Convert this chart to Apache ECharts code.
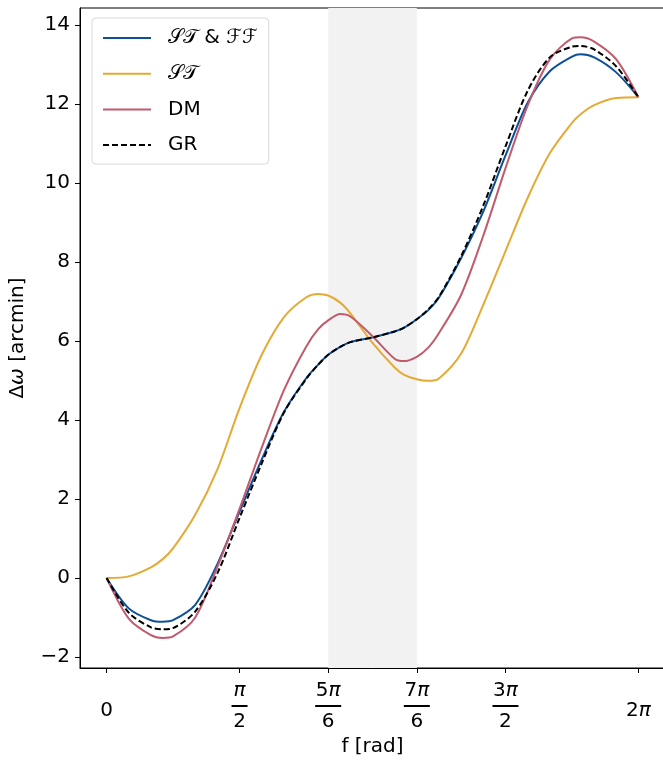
<!DOCTYPE html>
<html>
<head>
    <meta charset="utf-8">
    <script src="https://cdn.jsdelivr.net/npm/echarts@6/dist/echarts.min.js"></script>
    <style>
        html, body { margin: 0; padding: 0; background: #fff; }
        #chart { width: 663px; height: 760px; }
    </style>
</head>
<body>
<div id="chart"></div>
<script type="text/javascript">
    // true anomaly f [rad]
    var fVals = [0, 0.262, 0.524, 0.66, 0.785, 1.047, 1.309, 1.571, 1.833, 2.094, 2.356, 2.50, 2.618, 2.76, 2.880,
        3.142, 3.403, 3.51, 3.665, 3.80, 3.927, 4.189, 4.451, 4.712, 4.974, 5.236, 5.498, 5.60, 5.760, 6.021, 6.283];

    // delta omega [arcmin]
    var stff = [0, -0.77, -1.07, -1.11, -1.07, -0.68, 0.35, 1.68, 3.0, 4.2, 5.05, 5.4, 5.65, 5.85, 5.97,
        6.09, 6.24, 6.33, 6.55, 6.78, 7.1, 8.1, 9.28, 10.69, 12.03, 12.83, 13.2, 13.26, 13.18, 12.80, 12.17];
    var st = [0, 0.04, 0.27, 0.47, 0.75, 1.6, 2.75, 4.3, 5.65, 6.6, 7.1, 7.19, 7.15, 6.97, 6.7,
        5.95, 5.33, 5.15, 5.03, 4.99, 5.05, 5.68, 6.92, 8.27, 9.62, 10.75, 11.52, 11.74, 11.97, 12.15, 12.17];
    var dm = [0, -1.03, -1.45, -1.52, -1.48, -1.0, 0.28, 1.75, 3.3, 4.75, 5.85, 6.3, 6.52, 6.68, 6.62,
        6.12, 5.55, 5.49, 5.6, 5.83, 6.2, 7.17, 8.67, 10.37, 11.96, 13.13, 13.66, 13.69, 13.58, 13.13, 12.17];
    var gr = [0, -0.88, -1.25, -1.30, -1.27, -0.85, 0.12, 1.52, 2.9, 4.18, 5.03, 5.4, 5.65, 5.85, 5.97,
        6.09, 6.24, 6.33, 6.55, 6.8, 7.12, 8.15, 9.43, 10.92, 12.33, 13.18, 13.45, 13.47, 13.38, 12.95, 12.17];

    // axis ticks
    var xTicks = [0, Math.PI / 2, 5 * Math.PI / 6, 7 * Math.PI / 6, 3 * Math.PI / 2, 2 * Math.PI];
    var xTickLabels = ['{p|0}', '{pi|π}\n{bs|}\n{n|2}', '{n|5}{pi|π}\n{bar|}\n{n|6}', '{n|7}{pi|π}\n{bar|}\n{n|6}',
        '{n|3}{pi|π}\n{bar|}\n{n|2}', '{p|2}{pp|π}'];
    var yTicks = [-2, 0, 2, 4, 6, 8, 10, 12, 14];
    var band = [5 * Math.PI / 6, 7 * Math.PI / 6];

    var names = ['ST & FF', 'ST', 'DM', 'GR'];
    var legendText = {
        'ST & FF': '𝒮𝒯 & ℱℱ',
        'ST': '𝒮𝒯',
        'DM': 'DM',
        'GR': 'GR'
    };

    function pairs(ys) {
        var out = [];
        for (var i = 0; i < fVals.length; i++) {
            out.push([fVals[i], ys[i]]);
        }
        return out;
    }

    var font = 'DejaVu Sans';
    var chart = echarts.init(document.getElementById('chart'));

    function mkLine(name, ys, color, dash) {
        return {
            name: name,
            type: 'line',
            data: pairs(ys),
            smooth: 0.3,
            symbol: 'none',
            z: 3,
            lineStyle: {color: color, width: 2, type: dash ? [6, 3] : 'solid'},
            itemStyle: {color: color}
        };
    }

    var option = {
        animation: false,
        backgroundColor: '#fff',
        textStyle: {fontFamily: font},
        grid: {
            left: 80, right: -2, top: 8, bottom: 92,
            outerBoundsMode: 'none',
            containLabel: false,
            show: true, borderColor: '#000', borderWidth: 1
        },
        legend: {
            data: names,
            orient: 'vertical',
            left: 92, top: 18,
            padding: [10, 11, 9, 10],
            itemWidth: 48, itemHeight: 14,
            itemGap: 15.7,
            backgroundColor: '#fff',
            borderColor: '#d9d9d9', borderWidth: 1, borderRadius: 4,
            itemStyle: {opacity: 0},
            formatter: function (n) { return legendText[n]; },
            textStyle: {fontFamily: font, fontSize: 20, color: '#000', padding: [0, 0, 0, 12], lineHeight: 20}
        },
        xAxis: {
            type: 'value',
            min: -0.314, max: 6.597,
            name: 'f [rad]',
            nameLocation: 'middle',
            nameGap: 64,
            nameTextStyle: {fontFamily: font, fontSize: 20, color: '#000'},
            axisLine: {show: true, onZero: false, lineStyle: {color: '#000', width: 1}},
            axisTick: {show: true, customValues: xTicks, length: 5, lineStyle: {color: '#000'}},
            splitLine: {show: false},
            axisLabel: {
                customValues: xTicks,
                margin: 38,
                verticalAlign: 'middle',
                color: '#000',
                fontFamily: font,
                fontSize: 20,
                formatter: function (v) {
                    for (var i = 0; i < xTicks.length; i++) {
                        if (Math.abs(v - xTicks[i]) < 1e-6) return xTickLabels[i];
                    }
                    return '';
                },
                rich: {
                    n: {fontFamily: font, fontSize: 20, color: '#000', lineHeight: 25},
                    pi: {fontFamily: font, fontSize: 20, fontStyle: 'italic', color: '#000', lineHeight: 25},
                    p: {fontFamily: font, fontSize: 20, color: '#000', padding: [10, 0, 0, 0]},
                    pp: {fontFamily: font, fontSize: 20, fontStyle: 'italic', color: '#000', padding: [10, 0, 0, 0]},
                    bar: {width: 26, height: 2, lineHeight: 6, backgroundColor: '#000'},
                    bs: {width: 16, height: 2, lineHeight: 6, backgroundColor: '#000'}
                }
            }
        },
        yAxis: {
            type: 'value',
            min: -2.28, max: 14.43,
            name: 'Δ{i|ω} [arcmin]',
            nameLocation: 'middle',
            nameGap: 52,
            nameTextStyle: {
                fontFamily: font, fontSize: 20, color: '#000',
                rich: {i: {fontFamily: font, fontSize: 20, fontStyle: 'italic', color: '#000'}}
            },
            axisLine: {show: true, onZero: false, lineStyle: {color: '#000', width: 1}},
            axisTick: {show: true, customValues: yTicks, length: 5, lineStyle: {color: '#000'}},
            splitLine: {show: false},
            axisLabel: {
                customValues: yTicks,
                margin: 10,
                color: '#000',
                fontFamily: font,
                fontSize: 20,
                formatter: function (v) {
                    return v < 0 ? '\u2212' + Math.abs(v) : String(v);
                }
            }
        },
        series: [
            {
                name: 'band',
                type: 'line',
                data: [],
                z: 1,
                markArea: {
                    silent: true,
                    itemStyle: {color: '#f2f2f2'},
                    data: [[{xAxis: band[0]}, {xAxis: band[1]}]]
                }
            },
            mkLine('ST & FF', stff, '#0d4f98', false),
            mkLine('ST', st, '#e5aa33', false),
            mkLine('DM', dm, '#c15a6d', false),
            mkLine('GR', gr, '#000000', true)
        ]
    };
    chart.setOption(option);
</script>
</body>
</html>
